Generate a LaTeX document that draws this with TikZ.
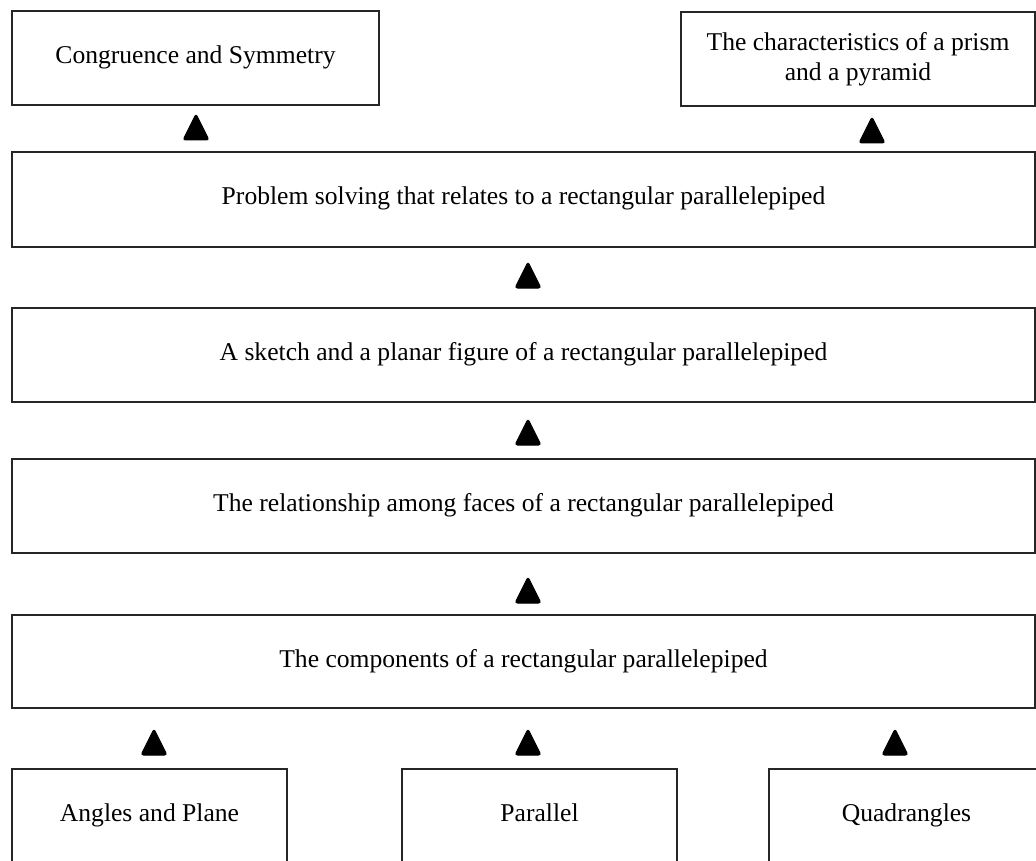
\documentclass[tikz,border=0pt]{standalone}
\usepackage{fontspec}
\setmainfont{Liberation Serif}
\usetikzlibrary{calc}
\newcommand\uptri[3]{\coordinate (#1) at (#2,#3);
  \filldraw[tri] ($(#1)+(-13,13)$) -- ($(#1)+(0,-13)$) -- ($(#1)+(13,13)$) -- cycle;}
\begin{document}
\begin{tikzpicture}[x=1pt,y=-1pt,
  box/.style={draw=black!85, line width=1.2pt, rectangle, inner sep=0pt, align=center,
    font=\fontsize{25.6}{30}\selectfont},
  one/.style={text height=17pt, text depth=6pt},
  tri/.style={fill=black, draw=black, line width=1pt, rounded corners=2.5pt}]
\useasboundingbox (0,0) rectangle (1036,861);
\clip (0,0) rectangle (1036,861);
\fill[white] (0,0) rectangle (1036,861);
% top boxes
\node[box, one, minimum width=367pt, minimum height=94pt] (cong) at (195.5,58) {Congruence and Symmetry};
\node[box, minimum width=354pt, minimum height=94pt] (prism) at (858,59) {The characteristics of a prism\\and a pyramid};
% wide boxes
\node[box, one, minimum width=1023pt, minimum height=95pt] (prob) at (523.5,199.5) {Problem solving that relates to a rectangular parallelepiped};
\node[box, one, minimum width=1023pt, minimum height=94pt] (sketch) at (523.5,355) {A sketch and a planar figure of a rectangular parallelepiped};
\node[box, one, minimum width=1023pt, minimum height=94pt] (rel) at (523.5,506) {The relationship among faces of a rectangular parallelepiped};
\node[box, one, minimum width=1023pt, minimum height=93pt] (comp) at (523.5,661.5) {The components of a rectangular parallelepiped};
% bottom boxes
\node[box, one, minimum width=275pt, minimum height=94pt] (angles) at (149.5,816) {Angles and Plane};
\node[box, one, minimum width=275pt, minimum height=94pt] (par) at (539.5,816) {Parallel};
\node[box, one, minimum width=275pt, minimum height=94pt] (quad) at (906.5,816) {Quadrangles};
% triangles (arrow heads)
\uptri{t1}{196}{127}
\uptri{t2}{872}{130}
\uptri{t3}{528}{275}
\uptri{t4}{528}{432}
\uptri{t5}{528}{590}
\uptri{t6}{154}{742}
\uptri{t7}{528}{742}
\uptri{t8}{895}{742}
\end{tikzpicture}
\end{document}
